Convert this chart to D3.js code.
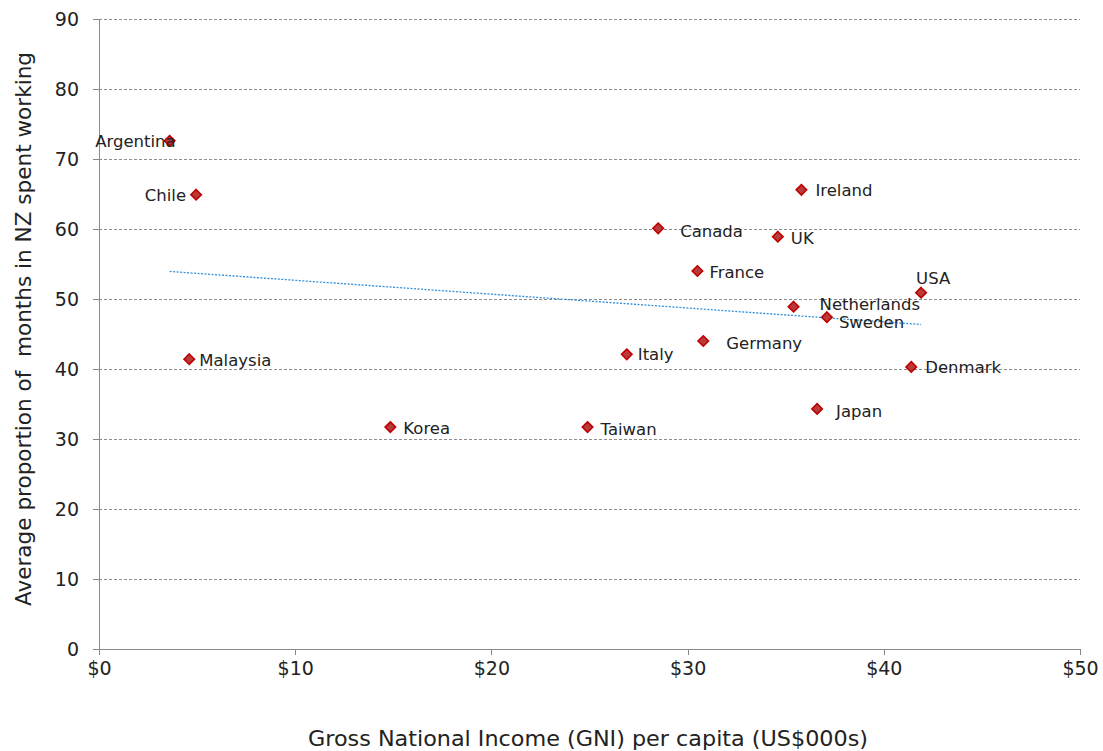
<!DOCTYPE html>
<html><head><meta charset="utf-8">
<script src="https://cdn.jsdelivr.net/npm/d3@7/dist/d3.min.js"></script>
<style>body{margin:0;background:#fff;} text{font-family:"DejaVu Sans",Verdana,sans-serif;fill:#222;}</style>
</head><body><svg id="c" width="1103" height="751"></svg>
<script>
const countries = ["Argentina","Chile","Malaysia","Korea","Taiwan","Italy","Canada","France","Germany","UK","Ireland","Netherlands","Sweden","Japan","Denmark","USA"];
const gni = [3.6,4.95,4.6,14.85,24.9,26.9,28.5,30.5,30.8,34.6,35.8,35.4,37.1,36.6,41.4,41.9];
const share = [72.6,64.9,41.4,31.7,31.7,42.1,60.1,54.0,44.0,58.9,65.6,48.9,47.4,34.3,40.3,50.9];
const xTicks = [0,10,20,30,40,50];
const xTickLabels = ["$0","$10","$20","$30","$40","$50"];
const yTicks = [0,10,20,30,40,50,60,70,80,90];
// label layout: [dx, dy, anchor]
const labelLayout = [[6,0,"end"],[-10,1,"end"],[10,1,"start"],[13,1,"start"],[13,2,"start"],[11,0,"start"],[22,3,"start"],[12,1,"start"],[23,2,"start"],[13,2,"start"],[14,0,"start"],[26,-2,"start"],[12,5,"start"],[19,2,"start"],[14,0,"start"],[-5,-14,"start"]];

const svg = d3.select("#c");
const x = d3.scaleLinear().domain([0,50]).range([99,1080]);
const y = d3.scaleLinear().domain([0,90]).range([649,19]);

// grid
svg.append("g").selectAll("line").data(yTicks.filter(d=>d>0)).join("line")
  .attr("x1",x(0)).attr("x2",x(50)).attr("y1",d=>y(d)).attr("y2",d=>y(d))
  .attr("stroke","#8c8c8c").attr("stroke-width",1).attr("stroke-dasharray","3,2")
  .attr("shape-rendering","crispEdges");

// axes
const yAxis = d3.axisLeft(y).tickValues(yTicks).tickSize(6).tickPadding(14);
const gy = svg.append("g").attr("transform",`translate(${x(0)},0)`).call(yAxis);
const xAxis = d3.axisBottom(x).tickValues(xTicks).tickFormat((d,i)=>xTickLabels[i]).tickSize(6).tickPadding(7);
const gx = svg.append("g").attr("transform",`translate(0,${y(0)})`).call(xAxis);
[gx,gy].forEach(g=>{
  g.select(".domain").attr("stroke","#898989").attr("shape-rendering","crispEdges");
  g.selectAll(".tick line").attr("stroke","#898989").attr("shape-rendering","crispEdges");
  g.selectAll("text").attr("font-size",19).attr("fill","#222").attr("font-family","DejaVu Sans, Verdana, sans-serif");
});
gy.select(".domain").attr("d",`M-6,${y(90)}H0V${y(0)}H-6`);
gx.select(".domain").attr("d",`M${x(0)},6V0H${x(50)}V6`);

// trend line (least squares)
const n = gni.length, mx = d3.mean(gni), my = d3.mean(share);
let sxy=0,sxx=0; for(let i=0;i<n;i++){sxy+=(gni[i]-mx)*(share[i]-my);sxx+=(gni[i]-mx)**2;}
const b = sxy/sxx, a = my-b*mx;
const x0 = d3.min(gni), x1 = d3.max(gni);
svg.append("line").attr("x1",x(x0)).attr("x2",x(x1)).attr("y1",y(a+b*x0)).attr("y2",y(a+b*x1))
  .attr("stroke","#2e8fdc").attr("stroke-width",1.3).attr("stroke-dasharray","2,1.5");

// points
const pts = countries.map((c,i)=>({c,gx:gni[i],s:share[i],l:labelLayout[i]}));
svg.append("g").selectAll("path").data(pts).join("path")
  .attr("d",d3.symbol().type(d3.symbolDiamond2).size(70))
  .attr("transform",d=>`translate(${x(d.gx)},${y(d.s)})`)
  .attr("fill","#b83a3a").attr("stroke","#c00000").attr("stroke-width",1.6);

svg.append("g").selectAll("text").data(pts).join("text")
  .attr("x",d=>x(d.gx)+d.l[0]).attr("y",d=>y(d.s)+d.l[1]).attr("dy","0.35em")
  .attr("text-anchor",d=>d.l[2]).attr("font-size",16.5).text(d=>d.c);

// titles
svg.append("text").attr("x",588).attr("y",746).attr("text-anchor","middle").attr("font-size",20.5)
  .attr("textLength",560).attr("lengthAdjust","spacingAndGlyphs")
  .text("Gross National Income (GNI) per capita (US$000s)");
svg.append("text").attr("transform","translate(31,329) rotate(-90)").attr("text-anchor","middle").attr("font-size",20.5)
  .attr("textLength",554).attr("lengthAdjust","spacingAndGlyphs")
  .attr("xml:space","preserve").style("white-space","pre")
  .text("Average proportion of  months in NZ spent working");
</script></body></html>
